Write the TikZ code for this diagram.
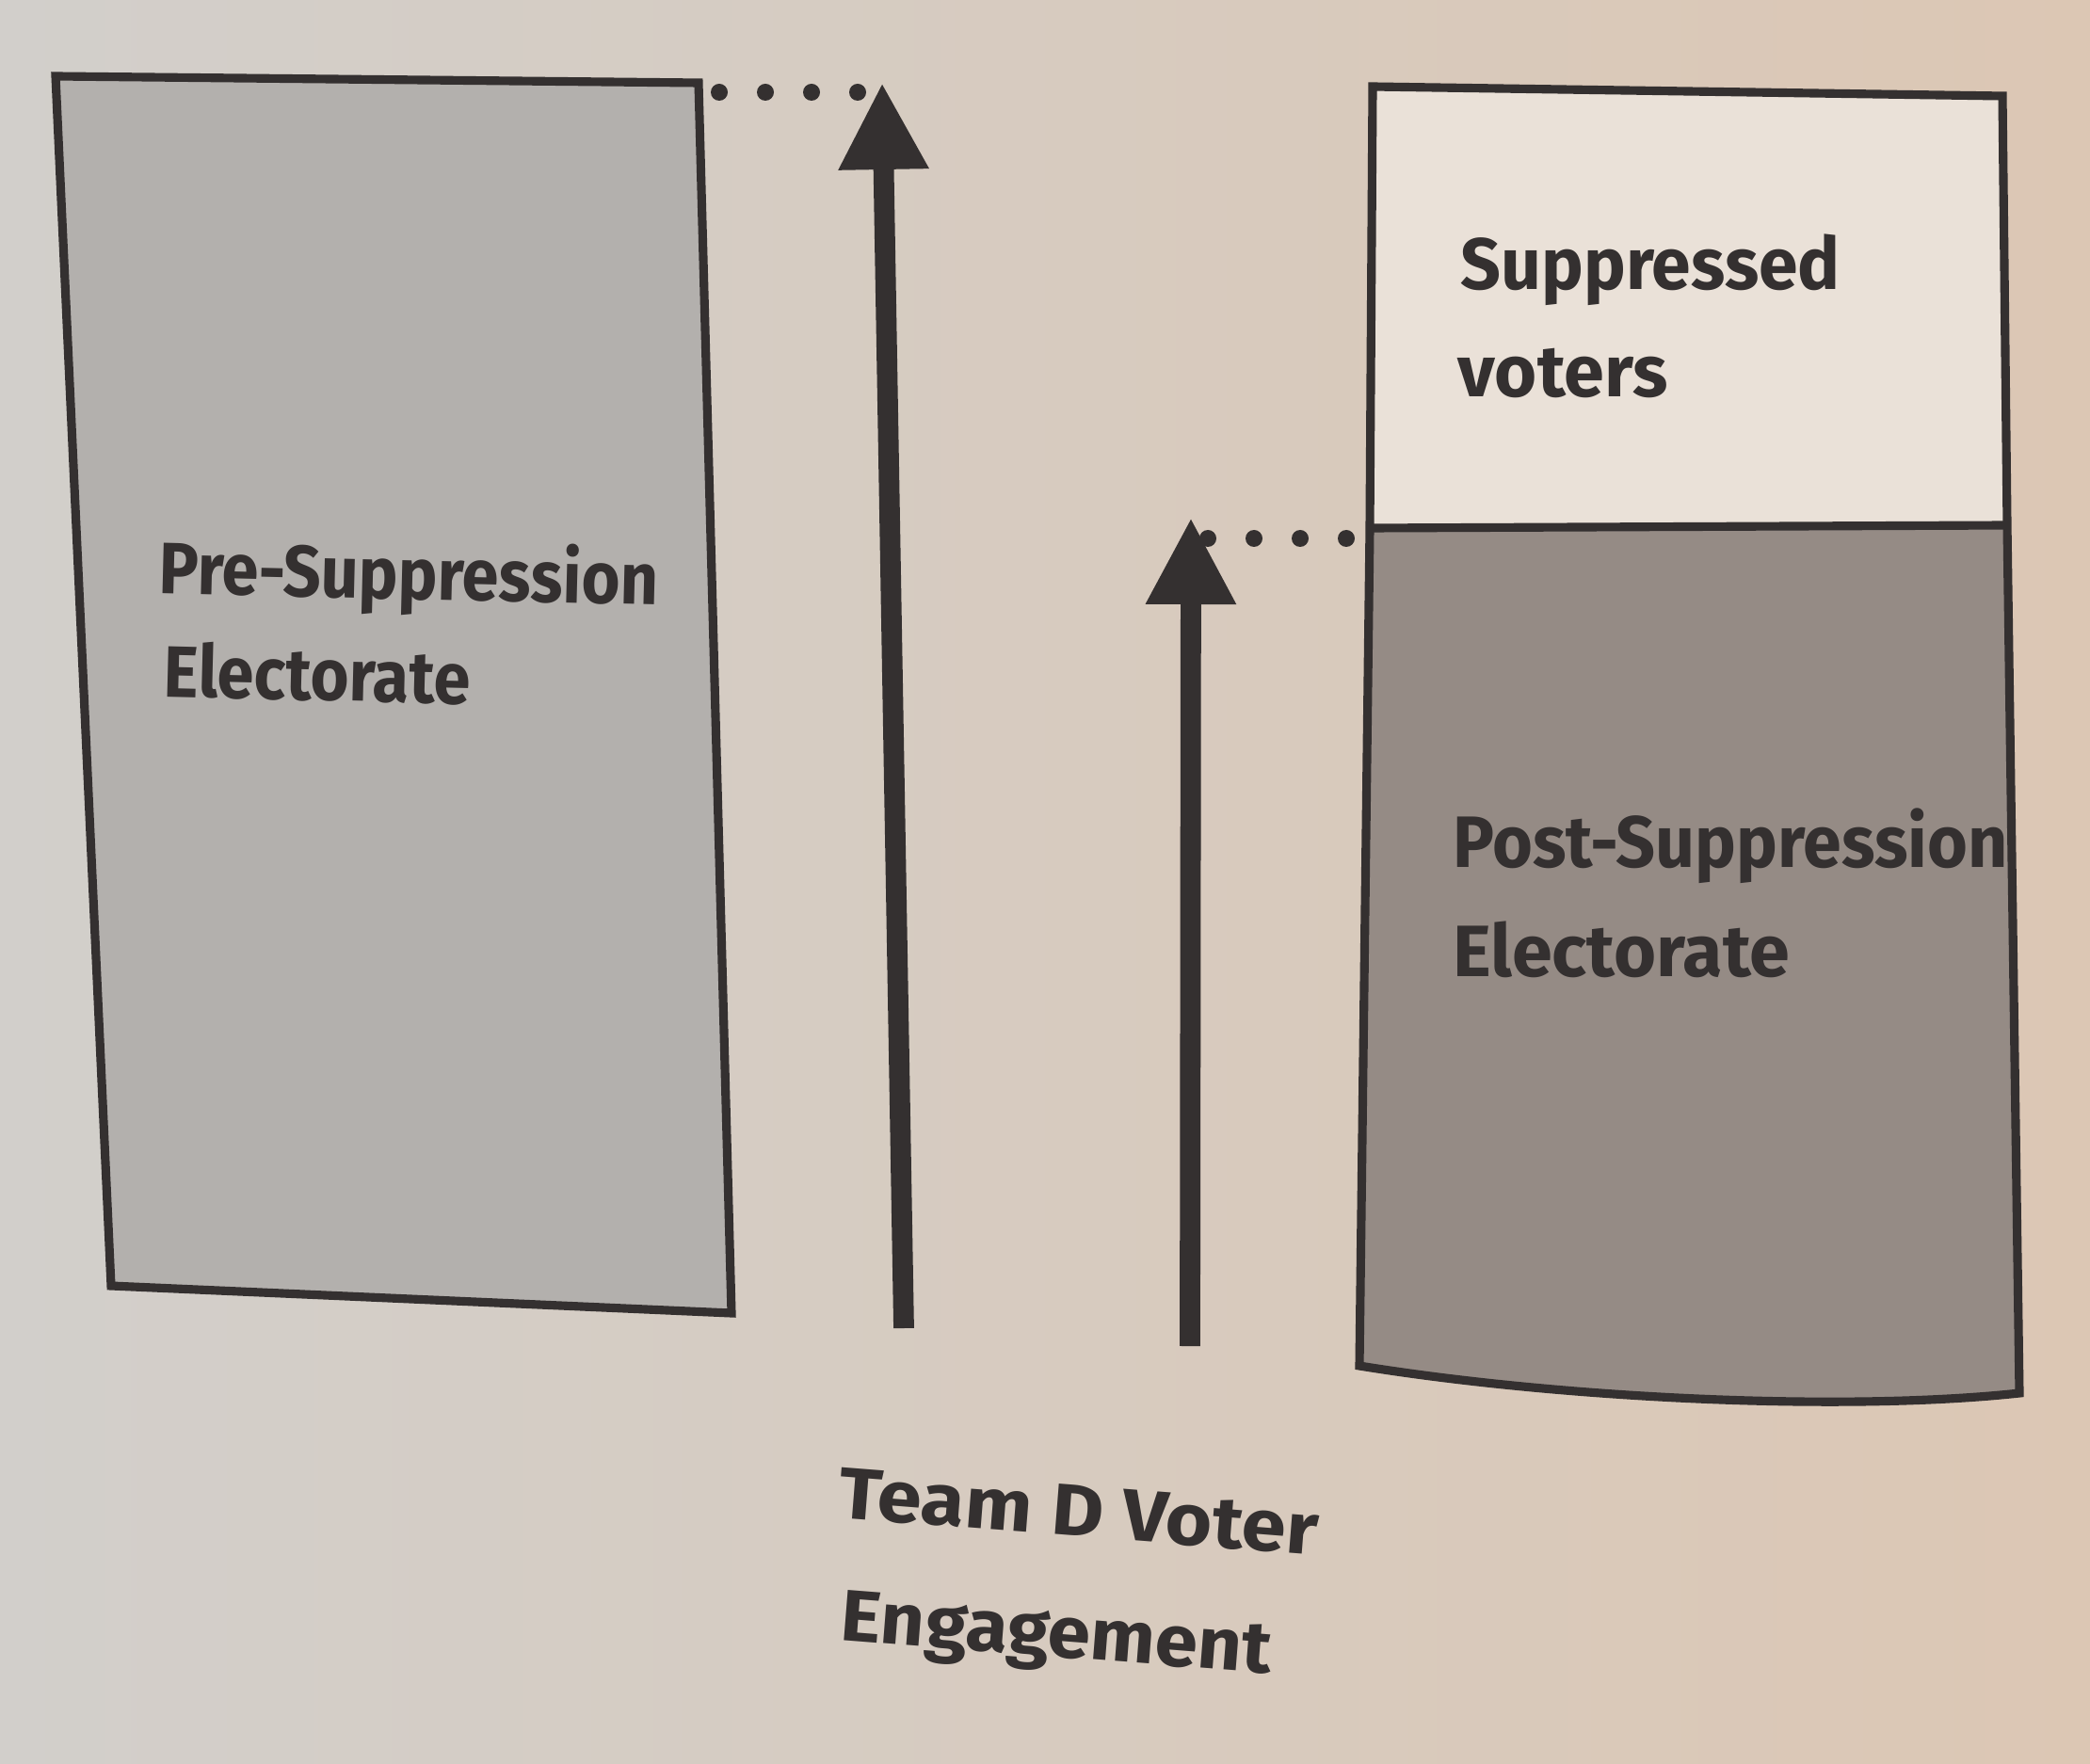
\documentclass[tikz,border=0pt]{standalone}
\usepackage{fontspec}
\setmainfont{Fira Sans}
\usetikzlibrary{arrows.meta}

\definecolor{paperL}{HTML}{D2CFCB}
\definecolor{paperR}{HTML}{DCC7B4}
\definecolor{ink}{HTML}{343030}
\definecolor{preFill}{HTML}{B3B0AD}
\definecolor{postFill}{HTML}{958B85}
\definecolor{supFill}{HTML}{EAE1D8}

\tikzset{
  box/.style={draw=ink, line width=2.6pt, line join=miter},
  lbl/.style={anchor=base west, inner sep=0pt, text=ink,
    font=\bfseries\fontsize{22}{26}\selectfont},
  rise/.style={draw=ink, line width=6.2pt,
    -{Triangle[length=0.92cm, width=0.9cm]}},
  dots/.style={draw=ink, line width=0.18cm, line cap=round,
    dash pattern=on 0pt off 0.49cm},
}

\begin{document}
\begin{tikzpicture}[x=1cm, y=-1cm]
  \useasboundingbox (0,0) rectangle (22.2,18.74);
  \shade[left color=paperL, right color=paperR] (0,0) rectangle (22.2,18.74);

  % left box
  \coordinate (lTL) at (0.59,0.81);
  \coordinate (lTR) at (7.42,0.88);
  \coordinate (lBR) at (7.77,13.95);
  \coordinate (lBL) at (1.18,13.66);
  \filldraw[box, fill=preFill] (lTL) -- (lTR) -- (lBR) -- (lBL) -- cycle;

  % right box
  \coordinate (rTL) at (14.58,0.92);
  \coordinate (rTR) at (21.27,1.02);
  \coordinate (rML) at (14.55,5.61);
  \coordinate (rMR) at (21.32,5.58);
  \coordinate (rBR) at (21.45,14.80);
  \coordinate (rBL) at (14.44,14.51);
  \fill[supFill] (rTL) -- (rTR) -- (rMR) -- (rML) -- cycle;
  \fill[postFill] (rML) -- (rMR) -- (rBR)
    .. controls (19.6,15.0) and (16.6,14.86) .. (rBL) -- cycle;
  \draw[box] (rTL) -- (rTR) -- (rMR) -- (rBR)
    .. controls (19.6,15.0) and (16.6,14.86) .. (rBL) -- (rML) -- cycle;
  \draw[box] (rML) -- (rMR);

  % arrows
  \coordinate (bigFoot) at (9.60,14.11);
  \coordinate (bigTip) at (9.37,0.88);
  \coordinate (smallFoot) at (12.64,14.30);
  \coordinate (smallTip) at (12.65,5.50);
  \draw[rise] (bigFoot) -- (bigTip);
  \draw[rise] (smallFoot) -- (smallTip);

  % dotted levels
  \coordinate (dotA) at (7.64,0.98);
  \coordinate (dotB) at (9.12,0.98);
  \coordinate (dotC) at (12.83,5.72);
  \coordinate (dotD) at (14.31,5.72);
  \draw[dots] (dotA) -- (dotB);
  \draw[dots] (dotC) -- (dotD);

  % labels
  \node[lbl, rotate=-1.4, xscale=0.91] (preLbl) at (1.68,6.30) {Pre-Suppression};
  \node[lbl, rotate=-1.4, xscale=0.91] (preLblB) at (1.73,7.40) {Electorate};
  \node[lbl, xscale=0.97] (supLbl) at (15.51,3.08) {Suppressed};
  \node[lbl] (supLblB) at (15.48,4.22) {voters};
  \node[lbl, xscale=0.95] (postLbl) at (15.43,9.21) {Post-Suppression};
  \node[lbl] (postLblB) at (15.43,10.37) {Electorate};
  \node[lbl, rotate=-4.5, xscale=1.1] (teamLbl) at (8.89,16.12) {Team D Voter};
  \node[lbl, rotate=-4.5, xscale=1.06] (teamLblB) at (8.91,17.42) {Engagement};
\end{tikzpicture}
\end{document}
